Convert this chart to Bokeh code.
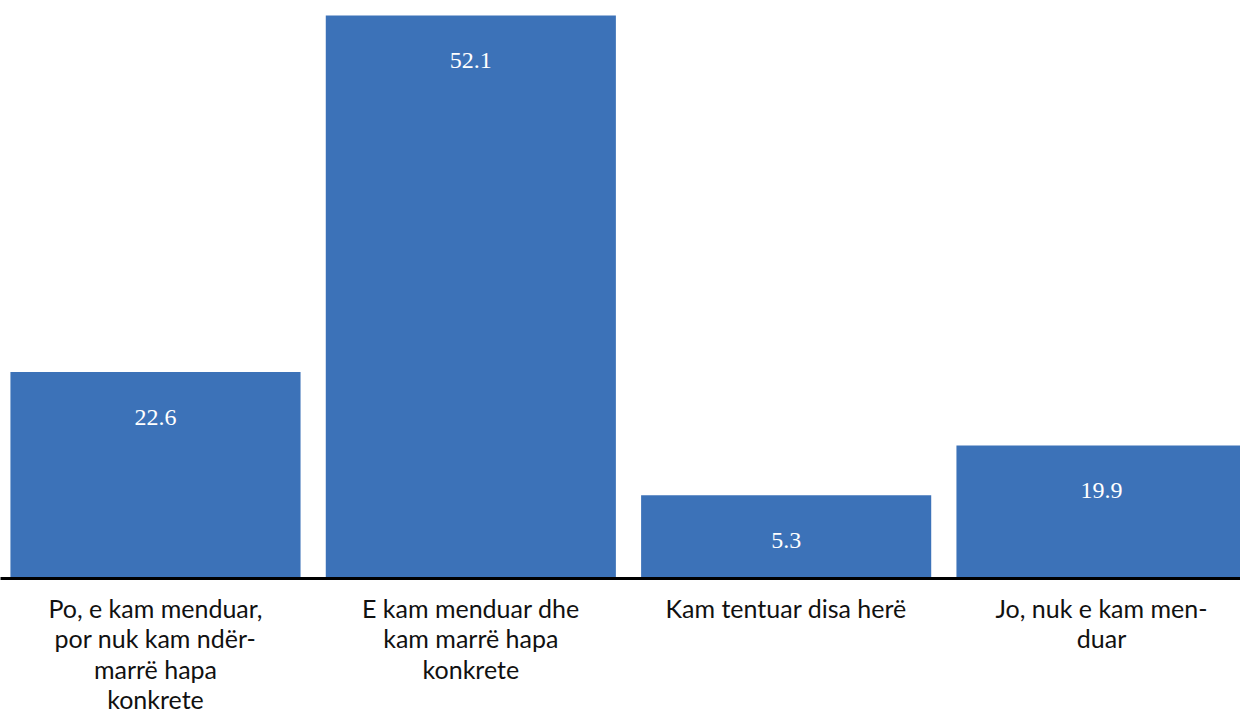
from bokeh.plotting import figure
from bokeh.models import ColumnDataSource, Range1d, FixedTicker, LabelSet
from bokeh.embed import file_html
from bokeh.resources import INLINE

categories = [
    "Po, e kam menduar,\npor nuk kam ndër-\nmarrë hapa\nkonkrete",
    "E kam menduar dhe\nkam marrë hapa\nkonkrete",
    "Kam tentuar disa herë",
    "Jo, nuk e kam men-\nduar",
]
values = [22.6, 52.1, 5.3, 19.9]          # printed data labels
bar_heights = [19.1, 52.1, 7.7, 12.3]     # bar heights as drawn in the reference

positions = list(range(len(categories)))
source = ColumnDataSource(dict(
    x=positions,
    h=bar_heights,
    label=[f"{v:.1f}" for v in values],
))

p = figure(
    width=1240, height=717,
    x_range=Range1d(-0.4915, 3.4408),
    y_range=Range1d(0, 53.48),
    output_backend="svg", toolbar_location=None,
    y_axis_location=None,
    min_border_left=0, min_border_right=0, min_border_top=0, min_border_bottom=137,
)
p.outline_line_color = None
p.xgrid.visible = False
p.ygrid.visible = False
p.background_fill_color = "white"
p.border_fill_color = "white"

p.vbar(x="x", top="h", width=0.92, bottom=0, source=source,
       fill_color="#3C72B8", line_color=None)

labels = LabelSet(x="x", y="h", text="label", source=source,
                  y_offset=-45, text_align="center", text_baseline="middle",
                  text_font="Liberation Serif", text_font_size="24px",
                  text_color="white")
p.add_layout(labels)

ax = p.xaxis[0]
ax.ticker = FixedTicker(ticks=positions)
ax.major_label_overrides = {i: c for i, c in zip(positions, categories)}
ax.axis_line_color = "black"
ax.axis_line_width = 3
ax.major_tick_in = 0
ax.major_tick_out = 0
ax.minor_tick_in = 0
ax.minor_tick_out = 0
ax.major_label_standoff = 14
ax.major_label_text_font = "Lato"
ax.major_label_text_font_size = "25px"
ax.major_label_text_line_height = 1.02
ax.major_label_text_color = "#111111"

open("out.html", "w").write(file_html(p, INLINE))
